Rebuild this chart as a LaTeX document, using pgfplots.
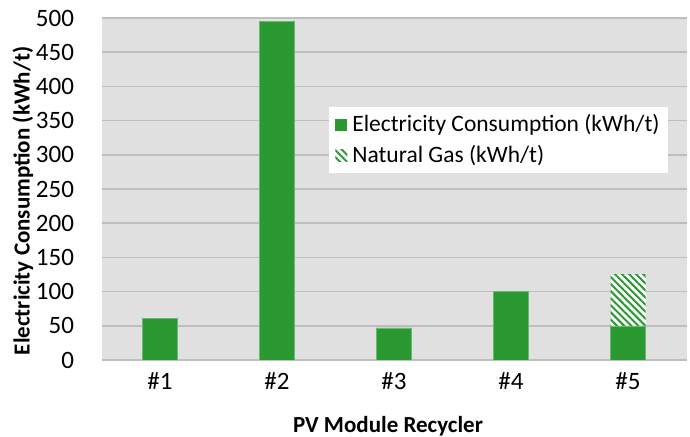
\documentclass[border=0pt]{standalone}
\usepackage{pgfplots}
\pgfplotsset{compat=1.18}
\usepackage{fontspec}
\setmainfont{Carlito}
\usetikzlibrary{patterns.meta}
\definecolor{bargreen}{RGB}{42,153,50}
\definecolor{bggrey}{RGB}{224,224,224}
\definecolor{gridgrey}{RGB}{190,190,190}
\begin{document}
\fontsize{25bp}{28bp}\selectfont
\begin{tikzpicture}
\useasboundingbox (0,0) rectangle (690bp,437bp);
\begin{axis}[
  at={(101.5bp,77bp)}, anchor=south west,
  scale only axis, width=585bp, height=342bp,
  xmin=-0.5, xmax=4.5, ymin=0, ymax=500,
  ytick={0,50,...,500},
  xtick={0,1,2,3,4},
  xticklabels={\#1,\#2,\#3,\#4,\#5},
  ybar stacked, bar width=35bp,
  axis line style={draw=none},
  major tick length=0pt,
  ymajorgrids, grid style={gridgrey, line width=1.5bp},
  axis background/.style={fill=bggrey},
  /pgf/number format/assume math mode=true,
  tick label style={font=\fontsize{25bp}{28bp}\selectfont},
  yticklabel style={xshift=-19bp},
  xticklabel style={yshift=-4bp},
  ylabel={\bfseries Electricity Consumption (kWh/t)},
  xlabel={\bfseries PV Module Recycler},
  label style={font=\fontsize{23bp}{26bp}\selectfont},
  ylabel style={at={(rel axis cs:-0.1342,0.465)}, anchor=center},
  xlabel style={at={(rel axis cs:0.5,0)}, anchor=center, yshift=-66bp, xshift=-6bp},
  legend style={at={(0.968,0.74)}, anchor=north east, draw=none, fill=white,
    font=\fontsize{23.5bp}{28bp}\selectfont, row sep=6bp, inner xsep=6bp, inner ysep=5bp,
    /tikz/every odd column/.append style={column sep=3bp}},
  legend cell align=left,
  legend image code/.code={\draw[#1, draw=none] (0bp,-6bp) rectangle (12bp,6bp);},
]
\addplot[fill=bargreen, draw=bargreen!70!white, line width=0.5bp] coordinates {(0,61) (1,495) (2,47) (3,100) (4,50)};
\addlegendentry{Electricity Consumption (kWh/t)}
\addplot[fill=white, draw=none, postaction={pattern={Lines[angle=-45,distance=5bp,line width=2bp]}, pattern color=bargreen}] coordinates {(0,0) (1,0) (2,0) (3,0) (4,75)};
\addlegendentry{Natural Gas (kWh/t)}
\end{axis}
\end{tikzpicture}
\end{document}
